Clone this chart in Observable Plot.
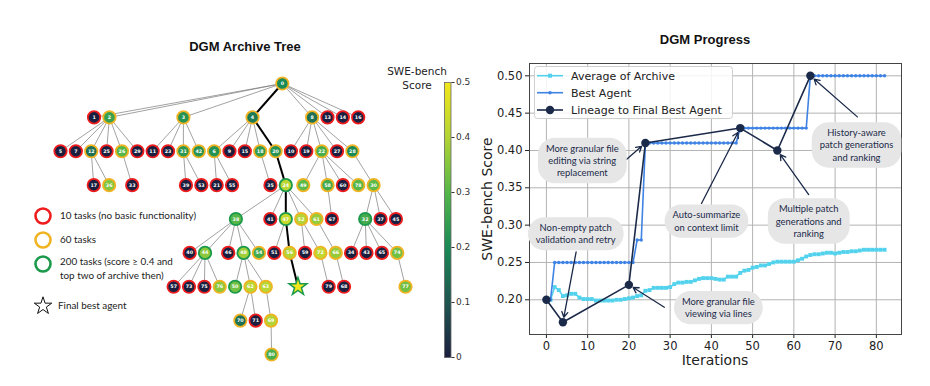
<!DOCTYPE html>
<html><head><meta charset="utf-8">
<script src="https://cdn.jsdelivr.net/npm/d3@7"></script>
<script src="https://cdn.jsdelivr.net/npm/@observablehq/plot@0.6"></script>
<style>
body{margin:0;background:#fff;}
#wrap{position:relative;width:930px;height:386px;overflow:hidden;font-family:"DejaVu Sans",sans-serif;color:#222;}
.abs{position:absolute;}
.title{font-family:"Liberation Sans",Arial,sans-serif;font-weight:bold;font-size:13px;line-height:16px;text-align:center;color:#111;}
</style></head>
<body><div id="wrap">
<div class="abs title" style="left:145px;top:39px;width:200px;">DGM Archive Tree</div>
<div class="abs title" style="left:605px;top:32px;width:200px;">DGM Progress</div>
<div class="abs" style="left:377px;top:65px;width:80px;text-align:center;font-size:10.5px;line-height:13.5px;">SWE-bench<br>Score</div>
<div class="abs" style="left:640px;top:351px;width:150px;text-align:center;font-size:14px;line-height:18px;">Iterations</div>
<div class="abs" style="left:412px;top:190px;width:150px;height:18px;text-align:center;font-size:14px;line-height:18px;transform:rotate(-90deg);">SWE-bench Score</div>
</div>
<script>
// ---------------- DATA ----------------
// Archive tree (node id = iteration), listed level by level
const treeIds     = [0, 1,2,3,4,8,13,14,16, 5,7,12,25,26,29, 11,23,31,42, 6,9,15,18,20, 10,19,22,27,28, 17,36, 33, 39,53, 21,55, 35, 24, 49,58,60,78, 30, 38,41,47,52,61, 67, 32,37,45, 40,44,46,48,54, 51,56, 59,72, 66, 34,43,65,74, 57,73,75,76, 50,62,63, 64, 79, 68, 77, 70,71, 69, 80];
const treeParents = [null, 0,0,0,0,0,0,0,0, 2,2,2,2,2,2, 3,3,3,3, 4,4,4,4,4, 8,8,8,8,8, 12,12, 26, 31,31, 6,6, 18, 20, 22,22,22,22, 28, 24,24,24,24,24, 58, 30,30,30, 38,38,38,38,38, 47,47, 52,52, 61, 32,32,32,32, 44,44,44,44, 48,48,48, 56, 72, 66, 74, 62,62, 63, 69];
const treeScores  = [0.20, 0,0.25,0.22,0.17,0.15,0,0,0, 0,0,0.15,0,0.30,0, 0,0,0.23,0.22, 0.22,0,0,0.24,0.22, 0,0,0.28,0,0.20, 0,0.35, 0, 0,0, 0,0, 0, 0.41, 0.31,0.27,0,0.30, 0.31, 0.30,0,0.43,0.40,0.37, 0, 0.27,0,0, 0,0.36,0,0.38,0.27, 0,0.40, 0,0.42, 0.37, 0,0,0,0.33, 0,0,0,0.36, 0.33,0.41,0.41, 0.50, 0, 0, 0.33, 0.15,0, 0.40, 0.28];
const treeTasks   = [60, 10,60,60,60,60,10,10,10, 10,10,60,10,60,10, 10,10,60,60, 60,10,10,60,60, 10,10,60,10,60, 10,60, 10, 10,10, 10,10, 10, 200, 60,60,10,60, 60, 200,10,200,60,60, 10, 200,10,10, 10,200,10,200,60, 10,60, 10,60, 60, 10,10,10,60, 10,10,10,60, 200,60,60, 200, 10, 10, 60, 60,10, 60, 60];
const lineageIds  = [0, 4, 20, 24, 47, 56, 64];
const finalBest   = 64;
const taskLabels  = ["10 tasks (no basic functionality)", "60 tasks", "200 tasks (score \u2265 0.4 and", "top two of archive then)"];

// Progress chart (iterations 1..82)
const avgArchive = [0.200,0.217,0.213,0.205,0.206,0.208,0.208,0.203,0.201,0.201,
  0.201,0.199,0.199,0.199,0.199,0.199,0.200,0.200,0.201,0.202,
  0.203,0.205,0.206,0.212,0.213,0.216,0.216,0.216,0.216,0.217,
  0.221,0.223,0.223,0.224,0.224,0.226,0.228,0.229,0.229,0.229,
  0.228,0.227,0.227,0.231,0.231,0.231,0.236,0.239,0.240,0.243,
  0.244,0.246,0.246,0.248,0.250,0.251,0.251,0.251,0.251,0.251,
  0.253,0.255,0.258,0.260,0.261,0.261,0.262,0.263,0.263,0.262,
  0.263,0.264,0.264,0.265,0.265,0.266,0.267,0.267,0.267,0.267,
  0.267,0.267];
const bestAgent = [0.20,0.25,0.25,0.25,0.25,0.25,0.25,0.25,0.25,0.25,
  0.25,0.25,0.25,0.25,0.25,0.25,0.25,0.25,0.25,0.25,
  0.25,0.28,0.28,0.41,0.41,0.41,0.41,0.41,0.41,0.41,
  0.41,0.41,0.41,0.41,0.41,0.41,0.41,0.41,0.41,0.41,
  0.41,0.41,0.41,0.41,0.41,0.41,0.43,0.43,0.43,0.43,
  0.43,0.43,0.43,0.43,0.43,0.43,0.43,0.43,0.43,0.43,
  0.43,0.43,0.43,0.50,0.50,0.50,0.50,0.50,0.50,0.50,
  0.50,0.50,0.50,0.50,0.50,0.50,0.50,0.50,0.50,0.50,
  0.50,0.50];
const lineageIter  = [0, 4, 20, 24, 47, 56, 64];
const lineageScore = [0.20, 0.17, 0.22, 0.41, 0.43, 0.40, 0.50];
const annText = ["More granular file\nediting via string\nreplacement", "Non-empty patch\nvalidation and retry", "Auto-summarize\non context limit", "Multiple patch\ngenerations and\nranking", "History-aware\npatch generations\nand ranking", "More granular file\nviewing via lines"];
const annX     = [8.7, 7.1, 38.8, 63.6, 75.2, 41.7];
const annY     = [0.387, 0.289, 0.306, 0.306, 0.408, 0.190];
const annFromX = [19.4, 7.2, 37.6, 63.6, 75.4, 28.6];
const annFromY = [0.388, 0.264, 0.329, 0.341, 0.445, 0.190];
const annTarget = [24, 4, 47, 56, 64, 20];
const xTicks = [0, 10, 20, 30, 40, 50, 60, 70, 80];
const yTicks = [0.20, 0.25, 0.30, 0.35, 0.40, 0.45, 0.50];
const cbTicks = [0, 0.1, 0.2, 0.3, 0.4, 0.5];
const legendLabels = ["Average of Archive", "Best Agent", "Lineage to Final Best Agent"];

// ---------------- STYLE ----------------
const cmapStops = [0, 0.1, 0.2, 0.3, 0.4, 0.5];
const cmapColors = ["#1b1f3f", "#1f5550", "#1a8a56", "#55b749", "#b3d434", "#f3e61b"];
const ringColors = {10: "#ee1c1c", 60: "#f0b323", 200: "#1c9a4c"};
const avgColor = "#52d2ec", bestColor = "#3f83e4", navy = "#1b2a49";
const colorScale = {type: "linear", domain: cmapStops, range: cmapColors, interpolate: "rgb"};

const wrap = document.getElementById("wrap");
function place(el, left, top) { el.style.position = "absolute"; el.style.left = left + "px"; el.style.top = top + "px"; wrap.appendChild(el); }

// ---------------- TREE LAYOUT (layered, compact) ----------------
const nodes = treeIds.map((id, i) => ({id: String(id), parent: treeParents[i] == null ? null : String(treeParents[i]), num: id, score: treeScores[i], tasks: treeTasks[i]}));
const root = d3.stratify().id(d => d.id).parentId(d => d.parent)(nodes);
root.count();
const all = root.descendants();
const maxDepth = d3.max(all, d => d.depth);
const levels = d3.range(maxDepth + 1).map(k => all.filter(d => d.depth === k));
function pava(des, w) {
  const blocks = [];
  des.forEach((v, i) => {
    blocks.push({s: (v - i) * w[i], w: w[i], n: 1});
    while (blocks.length > 1 && blocks[blocks.length - 2].s / blocks[blocks.length - 2].w > blocks[blocks.length - 1].s / blocks[blocks.length - 1].w) {
      const b = blocks.pop(); const a = blocks[blocks.length - 1]; a.s += b.s; a.w += b.w; a.n += b.n;
    }
  });
  const out = []; blocks.forEach(b => { for (let k = 0; k < b.n; k++) out.push(b.s / b.w); });
  return out.map((v, i) => v + i);
}
const weight = d => d.children ? 1 + d.value : 0.2;
levels.forEach(L => L.forEach((d, i) => d.lx = i));
const setLevel = (L, des) => { const xs = pava(des, L.map(weight)); L.forEach((d, i) => d.lx = xs[i]); };
for (let it = 0; it < 30; it++) {
  for (let k = 1; k <= maxDepth; k++) {
    const L = levels[k];
    setLevel(L, L.map(d => { const sib = d.parent.children; return d.parent.lx + sib.indexOf(d) - (sib.length - 1) / 2; }));
  }
  for (let k = maxDepth - 1; k >= 0; k--) {
    const L = levels[k];
    setLevel(L, L.map(d => d.children ? d3.median(d.children.map(c => c.lx).concat(d.parent ? [d.parent.lx] : [])) : d.lx));
  }
}
const tnodes = all.map(d => ({num: d.data.num, score: d.data.score, tasks: d.data.tasks, lx: d.lx, depth: d.depth}));
const lin = new Set(lineageIds);
const edges = all.slice(1).map(d => ({x1: d.parent.lx, y1: d.parent.depth, x2: d.lx, y2: d.depth, lineage: lin.has(d.data.num) && lin.has(d.parent.data.num)}));
const circles = tnodes.filter(d => d.num !== finalBest);
const star = tnodes.filter(d => d.num === finalBest);

const tree = Plot.plot({
  width: 430, height: 386,
  x: {domain: d3.extent(tnodes, d => d.lx), range: [60, 405], axis: null},
  y: {domain: [0, maxDepth], range: [83, 354], axis: null},
  color: colorScale,
  style: {background: "transparent", fontFamily: "DejaVu Sans"},
  marks: [
    Plot.link(edges.filter(e => !e.lineage), {x1: "x1", y1: "y1", x2: "x2", y2: "y2", stroke: "#7a7a7a", strokeWidth: 0.7}),
    Plot.link(edges.filter(e => e.lineage), {x1: "x1", y1: "y1", x2: "x2", y2: "y2", stroke: "#000", strokeWidth: 2}),
    ...[10, 60, 200].map(t => Plot.dot(circles.filter(d => d.tasks === t), {x: "lx", y: "depth", r: 6.2, fill: "score", stroke: ringColors[t], strokeWidth: 1.8})),
    Plot.dot(star, {x: "lx", y: "depth", symbol: "star", r: 5.6, fill: "score", stroke: ringColors[200], strokeWidth: 1.5}),
    Plot.text(circles, {x: "lx", y: "depth", text: "num", fill: "white", fontSize: 4.8, fontWeight: "bold"})
  ]
});
place(tree, 0, 0);

// ---------------- COLORBAR ----------------
const cbMarks = [];
if (Plot.raster) {
  cbMarks.push(Plot.raster({x1: 0, x2: 1, y1: 0, y2: 0.5, width: 1, height: 275, fill: (x, y) => y, imageRendering: "auto"}));
} else {
  const steps = d3.range(0, 0.5, 0.002);
  cbMarks.push(Plot.rect(steps, {x1: 0, x2: 1, y1: d => d, y2: d => d + 0.002, fill: d => d}));
}
const cbar = Plot.plot({
  width: 60, height: 386, marginLeft: 24, marginRight: 29.5, marginTop: 82, marginBottom: 29,
  x: {domain: [0, 1], axis: null},
  y: {domain: [0, 0.5], axis: null},
  color: colorScale,
  style: {background: "transparent", fontFamily: "DejaVu Sans", color: "#333"},
  marks: [
    ...cbMarks,
    Plot.frame({stroke: "#666", strokeWidth: 0.8}),
    Plot.axisY(cbTicks, {anchor: "right", tickSize: 3, tickPadding: 2, fontSize: 9, label: null, tickFormat: d => d === 0 ? "0" : d.toFixed(1)})
  ]
});
place(cbar, 420, 0);

// ---------------- LEFT LEGEND ----------------
const NS = "http://www.w3.org/2000/svg";
const lsvg = d3.create("svg").attr("width", 230).attr("height", 386).style("font-family", "Lato").style("font-size", "9.9px");
[[10, 216, 0], [60, 240, 1], [200, 264, 2]].forEach(([t, y, i]) => {
  lsvg.append("circle").attr("cx", 43).attr("cy", y).attr("r", 7.5).attr("fill", "white").attr("stroke", ringColors[t]).attr("stroke-width", 2.6);
  lsvg.append("text").attr("x", 60).attr("y", i === 2 ? 262 : y).attr("dy", "0.35em").attr("fill", "#222").text(taskLabels[i]);
});
lsvg.append("text").attr("x", 60).attr("y", 276).attr("dy", "0.35em").attr("fill", "#222").text(taskLabels[3]);
lsvg.append("path").attr("transform", "translate(43,306)").attr("d", d3.symbol(d3.symbolStar, 95)()).attr("fill", "white").attr("stroke", "#111").attr("stroke-width", 1);
lsvg.append("text").attr("x", 58).attr("y", 306).attr("dy", "0.35em").attr("fill", "#222").text("Final best agent");
place(lsvg.node(), 0, 0);

// ---------------- PROGRESS CHART ----------------
const avgData = avgArchive.map((v, i) => ({it: i + 1, v}));
const bestData = bestAgent.map((v, i) => ({it: i + 1, v}));
const linData = lineageIter.map((it, i) => ({it, v: lineageScore[i]}));
const anns = annText.map((t, i) => ({text: t, x: annX[i], y: annY[i], fx: annFromX[i], fy: annFromY[i], tx: annTarget[i], ty: lineageScore[lineageIter.indexOf(annTarget[i])]}));

const progress = Plot.plot({
  width: 470, height: 386,
  marginLeft: 69, marginRight: 29, marginTop: 63, marginBottom: 52,
  x: {domain: [-4.1, 86.1]},
  y: {domain: [0.1535, 0.5165]},
  style: {background: "transparent", fontFamily: "DejaVu Sans", color: "#222"},
  marks: [
    Plot.gridX(xTicks, {stroke: "#b3b3b3", strokeOpacity: 1, strokeWidth: 1}),
    Plot.gridY(yTicks, {stroke: "#b3b3b3", strokeOpacity: 1, strokeWidth: 1}),
    Plot.axisX(xTicks, {tickSize: 4, tickPadding: 3, fontSize: 11.5, label: null, tickFormat: d => String(d)}),
    Plot.axisY(yTicks, {tickSize: 4, tickPadding: 3, fontSize: 11.5, label: null, tickFormat: d3.format(".2f")}),
    Plot.frame({stroke: "#444", strokeWidth: 1}),
    Plot.line(avgData, {x: "it", y: "v", stroke: avgColor, strokeWidth: 1.6}),
    Plot.dot(avgData, {x: "it", y: "v", symbol: "square", r: 2.2, fill: avgColor}),
    Plot.line(bestData, {x: "it", y: "v", stroke: bestColor, strokeWidth: 1.6}),
    Plot.dot(bestData, {x: "it", y: "v", r: 1.7, fill: bestColor}),
    Plot.line(linData, {x: "it", y: "v", stroke: navy, strokeWidth: 1.6}),
    Plot.dot(linData, {x: "it", y: "v", r: 4.2, fill: navy}),
    Plot.arrow(anns, {x1: "fx", y1: "fy", x2: "tx", y2: "ty", stroke: navy, strokeWidth: 1.3, headLength: 7, insetEnd: 5}),
    Plot.text(anns, {x: "x", y: "y", text: "text", fontSize: 9.4, fontFamily: "Lato", fill: navy, lineHeight: 1.3, className: "ann", ariaDescription: "ann"})
  ]
});
place(progress, 460, 0);
progress.querySelectorAll("g.ann text, g[aria-description='ann'] text").forEach(t => {
  const b = t.getBBox();
  const padX = 8, padY = 5;
  const r = document.createElementNS(NS, "rect");
  const h = b.height + 2 * padY;
  r.setAttribute("x", b.x - padX); r.setAttribute("y", b.y - padY);
  r.setAttribute("width", b.width + 2 * padX); r.setAttribute("height", h);
  r.setAttribute("rx", Math.min(h / 2, 17)); r.setAttribute("fill", "#e6e6e6"); r.setAttribute("stroke", "none");
  if (t.getAttribute("transform")) r.setAttribute("transform", t.getAttribute("transform"));
  t.parentNode.insertBefore(r, t);
});

// ---------------- RIGHT LEGEND ----------------
const rl = d3.create("svg").attr("width", 200).attr("height", 55).style("font-family", "DejaVu Sans").style("font-size", "11px");
rl.append("rect").attr("x", 0.5).attr("y", 0.5).attr("width", 198).attr("height", 52).attr("rx", 3).attr("fill", "white").attr("fill-opacity", 0.85).attr("stroke", "#cfcfcf");
const rows = [9.7, 26.7, 44];
rl.append("line").attr("x1", 3).attr("x2", 29).attr("y1", rows[0]).attr("y2", rows[0]).attr("stroke", avgColor).attr("stroke-width", 1.6);
rl.append("rect").attr("x", 14).attr("y", rows[0] - 2).attr("width", 4).attr("height", 4).attr("fill", avgColor);
rl.append("line").attr("x1", 3).attr("x2", 29).attr("y1", rows[1]).attr("y2", rows[1]).attr("stroke", bestColor).attr("stroke-width", 1.6);
rl.append("circle").attr("cx", 16).attr("cy", rows[1]).attr("r", 1.8).attr("fill", bestColor);
rl.append("line").attr("x1", 3).attr("x2", 29).attr("y1", rows[2]).attr("y2", rows[2]).attr("stroke", navy).attr("stroke-width", 1.6);
rl.append("circle").attr("cx", 16).attr("cy", rows[2]).attr("r", 4.2).attr("fill", navy);
legendLabels.forEach((l, i) => rl.append("text").attr("x", 37).attr("y", rows[i]).attr("dy", "0.35em").attr("fill", "#222").text(l));
place(rl.node(), 534, 66);
</script>
</body></html>
